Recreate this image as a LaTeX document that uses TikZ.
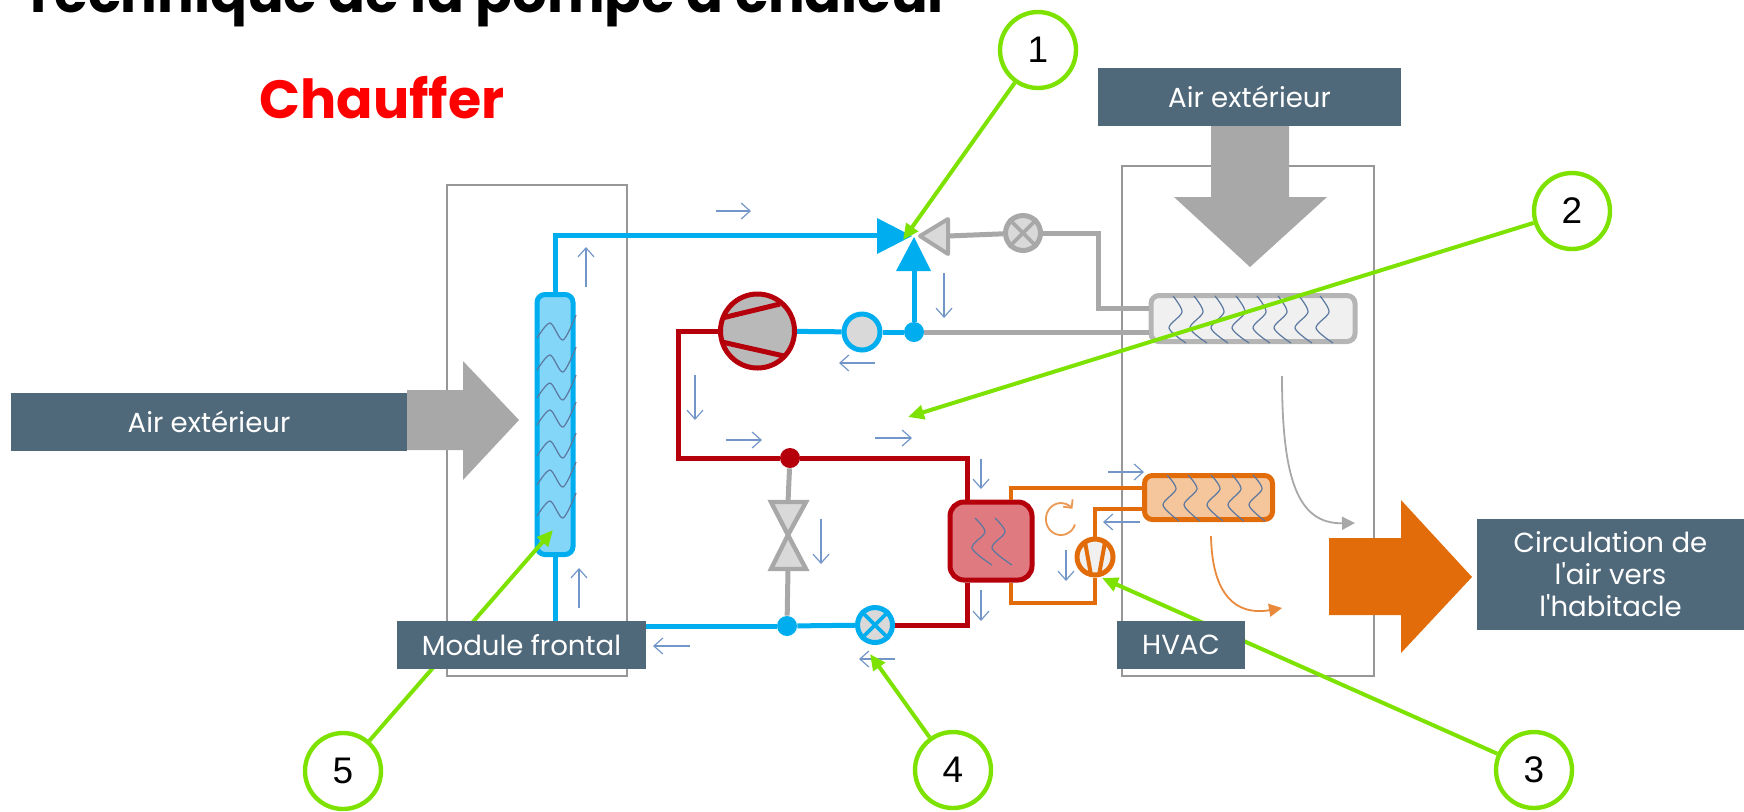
\documentclass[tikz,border=0pt]{standalone}
\usepackage{fontspec}
\usepackage{xcolor}
\usepackage{tikz}
\usetikzlibrary{arrows.meta, positioning}
\setmainfont{Poppins}[Ligatures=TeXOff]
\newfontfamily\numfont{Liberation Sans}
\definecolor{slatebox}{RGB}{80, 105, 122}
\definecolor{pipeblue}{RGB}{0, 174, 239}
\definecolor{tubeblue}{RGB}{132, 214, 248}
\definecolor{pipered}{RGB}{181, 0, 12}
\definecolor{coreRed}{RGB}{223, 122, 128}
\definecolor{pipeorange}{RGB}{227, 108, 10}
\definecolor{corepeach}{RGB}{245, 197, 155}
\definecolor{pipegray}{RGB}{168, 168, 168}
\definecolor{valvefill}{RGB}{217, 217, 217}
\definecolor{flowblue}{RGB}{115, 150, 200}
\definecolor{wavedark}{RGB}{90, 120, 160}
\definecolor{calloutgreen}{RGB}{125, 226, 0}

\begin{document}
\begin{tikzpicture}[x=0.5pt, y=-0.5pt,
  labelbox/.style={rectangle, fill=slatebox, text=white, inner sep=0pt, font=\fontsize{13.8}{16}\selectfont, align=center},
  callnum/.style={circle, draw=calloutgreen, fill=white, line width=2.2pt, minimum size=38pt, inner sep=0pt, font=\numfont\fontsize{18.5}{20}\selectfont},
  callout/.style={-{Triangle[length=8pt, width=7pt]}, line width=2pt, calloutgreen},
  module/.style={draw=pipegray!90!black, line width=0.8pt},
  coil/.style={rectangle, rounded corners=4pt, line width=2.5pt, inner sep=0pt},
  junction/.style={circle, inner sep=0pt, minimum size=10pt},
  valve/.style={circle, fill=valvefill, line width=2.5pt, inner sep=0pt, minimum size=17.5pt},
  bluepipe/.style={line width=2.5pt, pipeblue},
  redpipe/.style={line width=2.5pt, pipered},
  orangepipe/.style={line width=2.2pt, pipeorange},
  graypipe/.style={line width=2.5pt, pipegray},
  flow/.style={-{Straight Barb[length=4.5pt, width=8pt]}, line width=0.6pt, flowblue},
  wave/.style={line width=0.6pt, wavedark},
]
\useasboundingbox (0,0) rectangle (1744,811);
\clip (0,0) rectangle (1744,811);

% titles
\node[anchor=base west, inner sep=0pt, font=\fontsize{27.2}{30}\selectfont\bfseries] (title) at (22,12) {Technique de la pompe à chaleur};
\node[anchor=base west, inner sep=0pt, text=red, font=\fontsize{26.9}{30}\selectfont\bfseries] (mode) at (259,118) {Chauffer};

% module outlines
\draw[module] (447,185) rectangle (627,676);
\draw[module] (1122,166) rectangle (1374,676);

% big air arrows
\fill[pipegray] (1211,126) -- (1289,126) -- (1289,197) -- (1327,197) -- (1250,267) -- (1174,197) -- (1211,197) -- cycle;
\fill[pipegray] (407,390) -- (463,390) -- (463,361) -- (519,420) -- (463,480) -- (463,450) -- (407,450) -- cycle;
\fill[pipeorange] (1329,538) -- (1401,538) -- (1401,500) -- (1472,577) -- (1401,653) -- (1401,615) -- (1329,615) -- cycle;

% exchangers
\node[coil, draw=pipeblue, fill=tubeblue, minimum width=18pt, minimum height=130pt] (front) at (555,424.5) {};
\node[coil, draw=pipegray!85, fill=gray!12, minimum width=102pt, minimum height=23pt] (outer) at (1253,318.5) {};
\node[coil, draw=pipeorange, fill=corepeach, minimum width=64pt, minimum height=22pt] (heater) at (1208.5,497.5) {};
\node[coil, rounded corners=7pt, draw=pipered, fill=coreRed, minimum width=41pt, minimum height=39pt] (chiller) at (991,541) {};

% coils inside
\foreach \ya in {335,367,395,422,453,482,513}
  \draw[wave] plot[smooth] coordinates {(537,\ya+3) (550,\ya-12) (563,\ya+5) (576,\ya-20)};
\foreach \xa in {1169,1190,1211,1232,1253,1274,1295,1316}
  \draw[wave] plot[smooth] coordinates {(\xa+4,296) (\xa+13,312) (\xa,328) (\xa+17,343)};
\foreach \xa in {1163,1184,1207,1228,1249}
  \draw[wave] plot[smooth] coordinates {(\xa+4,475) (\xa+13,489) (\xa,505) (\xa+16,521)};
\foreach \xa in {972,992}
  \draw[wave] plot[smooth] coordinates {(\xa+3,518) (\xa+13,532) (\xa,548) (\xa+20,565)};

% valves and pump
\node[junction, fill=pipeblue] (nodeA) at (914,332) {};
\node[junction, fill=pipeblue] (nodeB) at (787,626) {};
\node[junction, fill=pipered] (nodeR) at (790,458) {};
\node[valve, draw=pipegray] (xgray) at (1023,233) {};
\node[valve, draw=pipeblue] (xblue) at (875,625) {};
\node[circle, draw=pipeblue, fill=valvefill, line width=2.5pt, inner sep=0pt, minimum size=18pt] (accu) at (862,332) {};
\node[circle, draw=pipered, fill=gray!55, line width=2.5pt, inner sep=0pt, minimum size=37pt] (comp) at (757.5,331) {};
\node[circle, draw=pipeorange, fill=gray!12, line width=2.5pt, inner sep=0pt, minimum size=18pt] (pump) at (1095,557) {};
\draw[pipegray, line width=1.8pt] (xgray.45) -- (xgray.225) (xgray.135) -- (xgray.315);
\draw[pipeblue, line width=1.8pt] (xblue.45) -- (xblue.225) (xblue.135) -- (xblue.315);
\draw[pipered, line width=2.5pt] (722,318) -- (780,304) (722,342) -- (784,356);
\draw[pipeorange, line width=2pt] (1085,542) -- (1091,575) (1105,542) -- (1099,575);

% three way valve
\coordinate (wayL) at (877,235);
\coordinate (wayB) at (914,271);
\coordinate (wayG) at (948,236);
\fill[pipeblue] (877,218) -- (912,236) -- (877,254) -- cycle;
\fill[pipeblue] (896,271) -- (914,237) -- (931,271) -- cycle;
\draw[pipegray, fill=valvefill, line width=2pt, line join=round] (948,219) -- (920,236) -- (948,254) -- cycle;

% bypass valve
\coordinate (byT) at (788,502);
\coordinate (byB) at (788,569);
\draw[pipegray, fill=valvefill, line width=2.2pt] (771,502) -- (806,502) -- (788,535) -- cycle;
\draw[pipegray, fill=valvefill, line width=2.2pt] (771,569) -- (806,569) -- (788,535) -- cycle;

% refrigerant circuit
\coordinate (grayA) at (1098,233);
\coordinate (grayB) at (1098,308);
\coordinate (redA) at (678,331);
\coordinate (redB) at (678,458);
\coordinate (redC) at (967,458);
\coordinate (redD) at (967,625);
\draw[bluepipe] (front.north) |- (wayL);
\draw[bluepipe] (front.south) |- (nodeB);
\draw[bluepipe] (nodeB) -- (xblue);
\draw[bluepipe] (nodeA) -- (wayB);
\draw[bluepipe] (nodeA) -- (accu);
\draw[bluepipe] (accu) -- (comp);
\draw[graypipe] (wayG) -- (xgray);
\draw[graypipe] (xgray) -- (grayA) -- (grayB) -- (grayB -| outer.west);
\draw[graypipe] (nodeA) -- (nodeA -| outer.west);
\draw[graypipe] (nodeR) -- (byT);
\draw[graypipe] (byB) -- (nodeB);
\draw[redpipe] (comp.west |- redA) -- (redA) -- (redB) -- (nodeR);
\draw[redpipe] (nodeR) -- (redC) -- (redC |- chiller.north);
\draw[redpipe] (xblue) -- (redD) -- (redD |- chiller.south);

% water loop
\coordinate (loopA) at (1011,488);
\coordinate (loopB) at (1095,509);
\coordinate (loopC) at (1095,603);
\coordinate (loopD) at (1011,603);
\draw[orangepipe] (loopA |- chiller.north) -- (loopA) -- (loopA -| heater.west);
\draw[orangepipe] (loopB -| heater.west) -- (loopB) -- (pump);
\draw[orangepipe] (pump) -- (loopC) -- (loopD) -- (loopD |- chiller.south);
\coordinate (loopS) at (1075,524.5);
\draw[pipeorange!70, line width=0.9pt, -{Straight Barb[length=3pt, width=6pt]}] (loopS) arc[start angle=20, end angle=320, x radius=15, y radius=16];

% thin flow marks
\foreach \xa/\ya/\xb/\yb/\nm in {716/211/751/211/a, 586/287/586/247/b, 944/273/944/318/c, 875/363/839/363/d,
    695/375/695/420/e, 726/440/762/440/f, 875/438/912/438/g, 981/459/981/489/h, 981/590/981/621/i,
    821/519/821/564/j, 1066/550/1066/581/k, 895/659/859/659/l, 1140/522/1103/522/m, 1108/472/1144/472/n,
    690/646/653/646/o, 579/608/579/568/p} {
  \coordinate (fl\nm a) at (\xa,\ya);
  \coordinate (fl\nm b) at (\xb,\yb);
  \draw[flow] (fl\nm a) -- (fl\nm b);
}

% air paths
\coordinate (coldA) at (1282,376);
\coordinate (coldB) at (1355,523);
\coordinate (warmA) at (1211,536);
\coordinate (warmB) at (1282,608);
\draw[pipegray, line width=0.9pt, -{Triangle[length=6.5pt, width=6.5pt]}] (coldA) .. controls (1282,480) and (1298,524) .. (coldB);
\draw[pipeorange!80, line width=0.9pt, -{Triangle[length=6.5pt, width=6.5pt]}] (warmA) .. controls (1212,595) and (1236,616) .. (warmB);

% callouts
\node[callnum] (num1) at (1038,50) {1};
\node[callnum] (num2) at (1572,211) {2};
\node[callnum] (num3) at (1534,770) {3};
\node[callnum] (num4) at (953,770) {4};
\node[callnum] (num5) at (343,771) {5};
\coordinate (tip1) at (903,240);
\coordinate (tip2) at (908,417);
\coordinate (tip3) at (1102,578);
\coordinate (tip4) at (870,654);
\coordinate (tip5) at (553,530);
\foreach \nm in {1,...,5}
  \draw[callout] (num\nm) -- (tip\nm);

% labels
\node[labelbox, minimum width=151.5pt, minimum height=29pt] (airtop) at (1249.5,97) {Air extérieur};
\node[labelbox, minimum width=198pt, minimum height=29pt] (airleft) at (209,422) {Air extérieur};
\node[labelbox, minimum width=124.5pt, minimum height=24pt] (frontlab) at (521.5,645) {Module frontal};
\node[labelbox, minimum width=64pt, minimum height=24pt] (hvaclab) at (1181,645) {HVAC};
\node[labelbox, minimum width=133.5pt, minimum height=55.5pt] (cabin) at (1610.5,574.5) {Circulation de\\l'air vers\\l'habitacle};
\end{tikzpicture}
\end{document}
